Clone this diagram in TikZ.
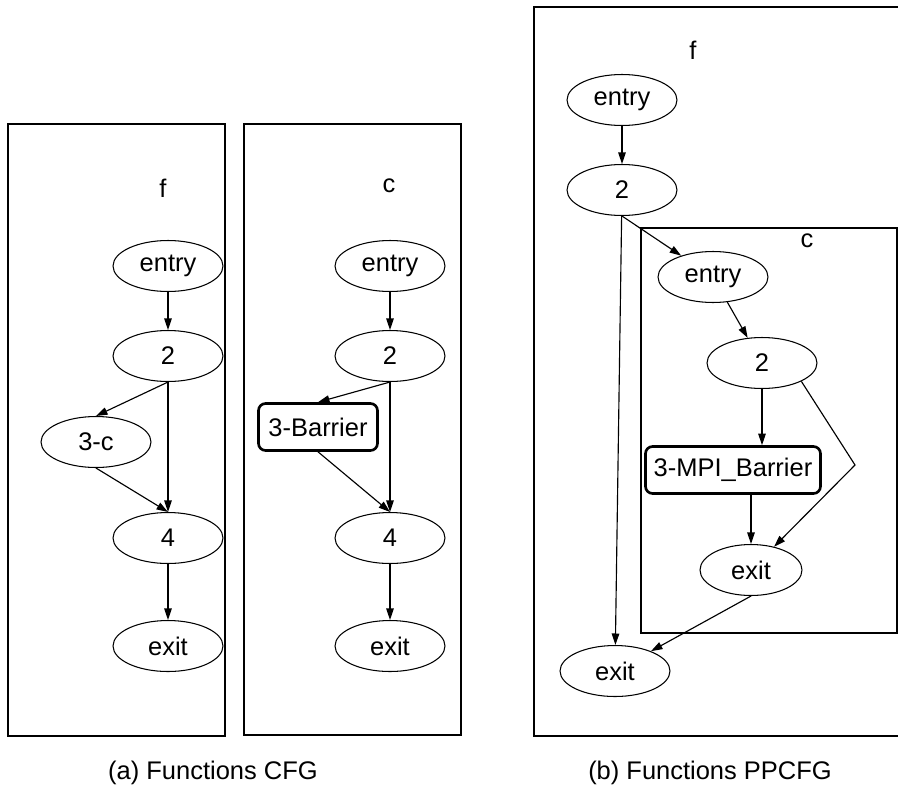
\documentclass[tikz,border=0pt]{standalone}
\usepackage{fontspec}
\setmainfont{Liberation Sans}
\usetikzlibrary{arrows.meta,shapes.geometric}

\tikzset{
  blk/.style={draw, ellipse, line width=0.6pt, minimum width=2.2cm, minimum height=1.02cm, inner sep=0pt},
  callbox/.style={draw, rounded corners=4pt, line width=1.5pt, inner sep=1pt, minimum height=0.94cm},
  flow/.style={line width=0.65pt, -{Triangle[length=2.3mm,width=1.5mm]}},
  frame/.style={line width=0.7pt},
}

\begin{document}
\begin{tikzpicture}[x=0.02cm, y=-0.02cm, font=\fontsize{14.5pt}{16pt}\selectfont]
	\useasboundingbox (0,0) rectangle (898,791);
	% (a) f
	\draw[frame] (8,124) rectangle (225,736);
	\node (fname) at (163,188) {f};
	\node[blk] (fentry) at (168,266) {entry};
	\node[blk] (f2) at (168,356) {2};
	\node[blk] (fc) at (96,442) {3-c};
	\node[blk] (f4) at (168,538) {4};
	\node[blk] (fexit) at (168,646) {exit};
	\draw[flow] (fentry) -- (f2);
	\draw[flow] (f2.south) -- (fc.north);
	\draw[flow] (f2) -- (f4);
	\draw[flow] (fc.south) -- (f4.north);
	\draw[flow] (f4) -- (fexit);
	% (a) c
	\draw[frame] (244,124) rectangle (461,735);
	\node (cname) at (389,186) {c};
	\node[blk] (centry) at (390,266) {entry};
	\node[blk] (c2) at (390,356) {2};
	\node[callbox, minimum width=2.38cm] (cbar) at (318,427) {3-Barrier};
	\node[blk] (c4) at (390,538) {4};
	\node[blk] (cexit) at (390,646) {exit};
	\draw[flow] (centry) -- (c2);
	\draw[flow] (c2.south) -- (cbar.north);
	\draw[flow] (c2) -- (c4);
	\draw[flow] (cbar.south) -- (c4.north);
	\draw[flow] (c4) -- (cexit);
	\node (capa) at (213,773) {(a) Functions CFG};
	% (b) f with c inlined
	\draw[frame] (898,7) -- (534,7) -- (534,736) -- (898,736);
	\draw[frame] (641,228) rectangle (897,633);
	\node (gname) at (693,50) {f};
	\node (iname) at (807,241) {c};
	\node[blk] (gentry) at (622,100) {entry};
	\node[blk] (g2) at (622,190) {2};
	\node[blk] (ientry) at (713,277) {entry};
	\node[blk] (i2) at (762,363) {2};
	\node[callbox, minimum width=3.5cm] (ibar) at (733,470) {3-MPI\_Barrier};
	\node[blk, minimum width=2.04cm] (iexit) at (751,570) {exit};
	\node[blk] (gexit) at (615,671) {exit};
	\coordinate (ibend) at (855,465);
	\draw[flow] (gentry) -- (g2);
	\draw[flow] (g2) -- (gexit);
	\draw[flow] (g2.south) -- (ientry);
	\draw[flow] (ientry) -- (i2);
	\draw[flow] (i2) -- (i2 |- ibar.north);
	\draw[flow] (i2.-25) -- (ibend) -- (iexit);
	\draw[flow] (ibar.south -| iexit) -- (iexit);
	\draw[flow] (iexit.south) -- (gexit);
	\node (capb) at (710,773) {(b) Functions PPCFG};
\end{tikzpicture}
\end{document}
